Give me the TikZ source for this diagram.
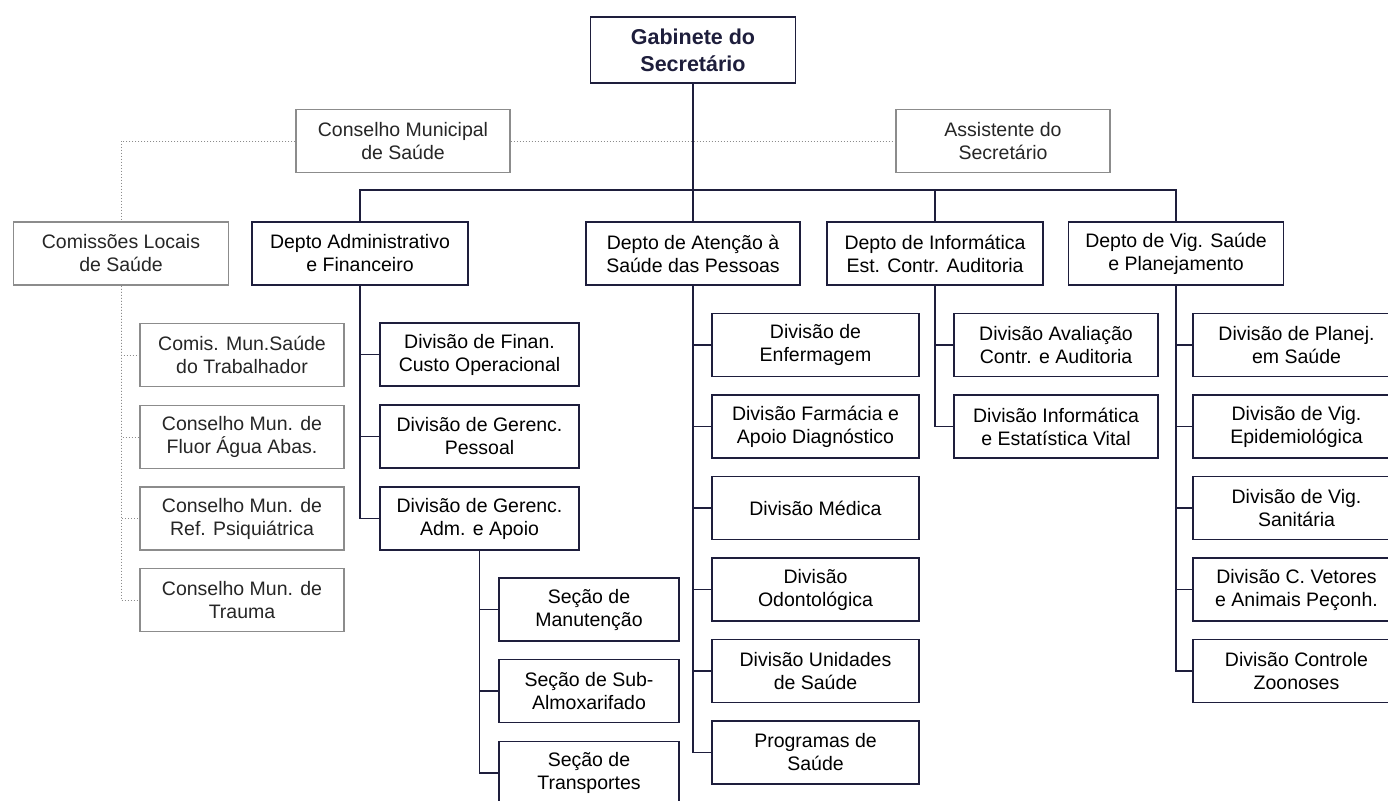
\documentclass[tikz,border=0pt]{standalone}
\usepackage{fontspec}
\setmainfont{Liberation Sans}
\definecolor{navy}{HTML}{1E1E3C}
\definecolor{greyline}{HTML}{8C8C8C}

\begin{document}
\begin{tikzpicture}[x=1pt,y=-1pt]
\tikzstyle{box} = [rectangle, draw=navy, line width=1.6pt, fill=white, minimum height=63pt, inner sep=0pt, align=center, font=\fontsize{19.5}{23}\selectfont, text=black]
\tikzstyle{gbox} = [box, draw=greyline, line width=1.1pt, text=black!85]
\tikzstyle{link} = [draw=navy, line width=1.6pt]
\tikzstyle{dlink} = [draw=greyline, line width=1pt, dotted]

\useasboundingbox (0,0) rectangle (1388,800);
\clip (0,0) rectangle (1388,800);
\fill[white] (0,0) rectangle (1388,800);

% topo
\node (Gab) [box, minimum width=205pt, minimum height=66pt, font=\fontsize{21.5}{27}\selectfont\bfseries, text=navy] at (693,50) {Gabinete do\\Secretário};
\node (CMS) [gbox, minimum width=214pt] at (403,141) {Conselho Municipal\\de Saúde};
\node (Ass) [gbox, minimum width=214pt] at (1003,141) {Assistente do\\Secretário};

% departamentos
\node (CLS) [gbox, minimum width=215pt] at (121,253.5) {Comissões Locais\\de Saúde};
\node (DAF) [box, minimum width=216pt] at (360,253.5) {Depto Administrativo\\e Financeiro};
\node (DAS) [box, minimum width=214pt] at (693,253.5) {Depto de Atenção à\\Saúde das Pessoas};
\node (DIE) [box, minimum width=216pt] at (935,253.5) {Depto de Informática\\Est. Contr. Auditoria};
\node (DVS) [box, minimum width=215pt] at (1176,253.5) {Depto de Vig. Saúde\\e Planejamento};

% comissoes e conselhos
\node (CL1) [gbox, minimum width=204pt] at (242,355) {Comis. Mun.Saúde\\do Trabalhador};
\node (CL2) [gbox, minimum width=204pt] at (242,437) {Conselho Mun. de\\Fluor Água Abas.};
\node (CL3) [gbox, minimum width=204pt] at (242,518.5) {Conselho Mun. de\\Ref. Psiquiátrica};
\node (CL4) [gbox, minimum width=204pt] at (242,600) {Conselho Mun. de\\Trauma};

% administrativo
\node (AF1) [box, minimum width=199pt] at (479.5,354.5) {Divisão de Finan.\\Custo Operacional};
\node (AF2) [box, minimum width=199pt] at (479.5,436.5) {Divisão de Gerenc.\\Pessoal};
\node (AF3) [box, minimum width=199pt] at (479.5,518.5) {Divisão de Gerenc.\\Adm. e Apoio};
\node (SE1) [box, minimum width=180pt] at (589,609.5) {Seção de\\Manutenção};
\node (SE2) [box, minimum width=180pt] at (589,691) {Seção de Sub-\\Almoxarifado};
\node (SE3) [box, minimum width=180pt] at (589,773) {Seção de\\Transportes};

% atencao
\node (AS1) [box, minimum width=207pt] at (815.5,345) {Divisão de\\Enfermagem};
\node (AS2) [box, minimum width=207pt] at (815.5,426.5) {Divisão Farmácia e\\Apoio Diagnóstico};
\node (AS3) [box, minimum width=207pt] at (815.5,508) {Divisão Médica};
\node (AS4) [box, minimum width=207pt] at (815.5,589.5) {Divisão\\Odontológica};
\node (AS5) [box, minimum width=207pt] at (815.5,671) {Divisão Unidades\\de Saúde};
\node (AS6) [box, minimum width=207pt] at (815.5,752.5) {Programas de\\Saúde};

% informatica
\node (IE1) [box, minimum width=204pt] at (1056,345) {Divisão Avaliação\\Contr. e Auditoria};
\node (IE2) [box, minimum width=204pt] at (1056,426.5) {Divisão Informática\\e Estatística Vital};

% vigilancia
\node (VS1) [box, minimum width=207pt] at (1296.5,345) {Divisão de Planej.\\em Saúde};
\node (VS2) [box, minimum width=207pt] at (1296.5,426.5) {Divisão de Vig.\\Epidemiológica};
\node (VS3) [box, minimum width=207pt] at (1296.5,508) {Divisão de Vig.\\Sanitária};
\node (VS4) [box, minimum width=207pt] at (1296.5,589.5) {Divisão C. Vetores\\e Animais Peçonh.};
\node (VS5) [box, minimum width=207pt] at (1296.5,671) {Divisão Controle\\Zoonoses};

% ligacoes pontilhadas
\draw[dlink] (CMS.west) -| (CLS.north);
\draw[dlink] (CMS.east) -- (Ass.west);
\draw[dlink] (CLS.south) |- (CL1.west);
\draw[dlink] (CLS.south) |- (CL2.west);
\draw[dlink] (CLS.south) |- (CL3.west);
\draw[dlink] (CLS.south) |- (CL4.west);

% ligacoes
\coordinate (bar) at (693,190);
\draw[link] (Gab.south) -- (DAS.north);
\draw[link] (DAF.north) |- (bar) -| (DVS.north);
\draw[link] (DIE.north) -- (DIE.north |- bar);

\draw[link] (DAF.south) |- (AF1.west);
\draw[link] (DAF.south) |- (AF2.west);
\draw[link] (DAF.south) |- (AF3.west);
\draw[link] (AF3.south) |- (SE1.west);
\draw[link] (AF3.south) |- (SE2.west);
\draw[link] (AF3.south) |- (SE3.west);

\draw[link] (DAS.south) |- (AS1.west);
\draw[link] (DAS.south) |- (AS2.west);
\draw[link] (DAS.south) |- (AS3.west);
\draw[link] (DAS.south) |- (AS4.west);
\draw[link] (DAS.south) |- (AS5.west);
\draw[link] (DAS.south) |- (AS6.west);

\draw[link] (DIE.south) |- (IE1.west);
\draw[link] (DIE.south) |- (IE2.west);

\draw[link] (DVS.south) |- (VS1.west);
\draw[link] (DVS.south) |- (VS2.west);
\draw[link] (DVS.south) |- (VS3.west);
\draw[link] (DVS.south) |- (VS4.west);
\draw[link] (DVS.south) |- (VS5.west);
\end{tikzpicture}
\end{document}
